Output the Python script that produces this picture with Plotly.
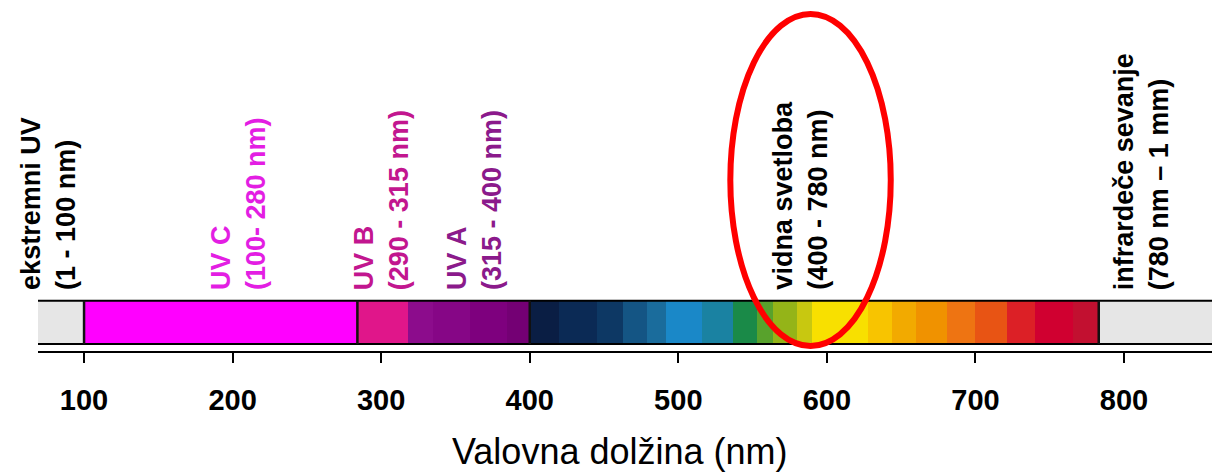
import plotly.graph_objects as go

# ---------------- data ----------------
SEG_EDGES_NM = [69, 100, 283, 318, 335, 360, 385, 400, 420, 445, 463, 479, 492, 516,
                537, 553, 564, 580, 590, 628, 644, 660, 681, 700, 721, 740, 766, 783, 862]
SEG_COLORS = ["#e6e6e6", "#ff00ff", "#e0168a", "#8c0c8c", "#860686", "#7e007e", "#740074",
              "#0a1e44", "#0b2a55", "#0d3864", "#145584", "#1a6c9c", "#1a88c8", "#1a82a2",
              "#1a8a48", "#58a22c", "#94b418", "#c8c810", "#f8e000", "#f8c400", "#f2aa00",
              "#f09200", "#ee7412", "#e85414", "#dc2026", "#d00030", "#c21030", "#e6e6e6"]
DIVIDERS_NM = [100, 284, 400, 783]

LABELS = ["ekstremni UV<br>(1 - 100 nm)",
          "UV C<br>(100- 280 nm)",
          "UV B<br>(290 - 315 nm)",
          "UV A<br>(315 - 400 nm)",
          "vidna svetloba<br>(400 - 780 nm)",
          "infrardeče sevanje<br>(780 nm – 1 mm)"]
LABEL_NM = [76, 204, 300, 362.5, 582, 812]
LABEL_COLORS = ["#000000", "#e31ee3", "#c2168f", "#8b1a8b", "#000000", "#000000"]

TICK_VALS = [100, 200, 300, 400, 500, 600, 700, 800]
TICK_TEXT = ["100", "200", "300", "400", "500", "600", "700", "800"]
X_TITLE = "Valovna dolžina (nm)"
HIGHLIGHT_NM = [535, 643]   # visible-light ellipse span

# ---------------- layout constants ----------------
OFF = 8                      # page body margin of the html
W, H = 1220 - OFF, 474 - OFF
ML, MR, MT = 38 - OFF, 3, 0
PLOT_H = 351 - OFF
MB = H - MT - PLOT_H
X_RANGE = [69.0, 862.6]
Y_RANGE = [0, PLOT_H]
BAND_BOT, BAND_TOP = 7, 50.3
FONT = "Liberation Sans"


def page_y(py):
    """page pixel row -> y data value"""
    return PLOT_H - (py - OFF)


fig = go.Figure()

for i, c in enumerate(SEG_COLORS):
    start = SEG_EDGES_NM[i]
    end = SEG_EDGES_NM[i + 1]
    fig.add_trace(go.Bar(
        orientation="h",
        y=[(BAND_BOT + BAND_TOP) / 2], x=[end - start], base=[start],
        width=BAND_TOP - BAND_BOT,
        marker=dict(color=c, line=dict(width=0)),
        hoverinfo="skip", showlegend=False))

shapes = []
for y in (BAND_BOT, BAND_TOP):
    shapes.append(dict(type="line", xref="x", yref="y", x0=X_RANGE[0], x1=X_RANGE[1],
                       y0=y, y1=y, line=dict(color="#000000", width=2)))
for d in DIVIDERS_NM:
    shapes.append(dict(type="line", xref="x", yref="y", x0=d, x1=d,
                       y0=BAND_BOT, y1=BAND_TOP, line=dict(color="#111111", width=2.5)))
shapes.append(dict(type="circle", xref="x", yref="y",
                   x0=HIGHLIGHT_NM[0], x1=HIGHLIGHT_NM[1], y0=page_y(346), y1=page_y(14),
                   line=dict(color="#ff0000", width=6)))

annotations = []
for txt, xnm, col in zip(LABELS, LABEL_NM, LABEL_COLORS):
    annotations.append(dict(
        text="<b>" + txt + "</b>", x=xnm, y=page_y(292), xref="x", yref="y",
        xanchor="center", yanchor="bottom", textangle=-90, align="left",
        showarrow=False, font=dict(family=FONT, size=27, color=col)))

annotations.append(dict(
    text=X_TITLE, xref="paper", yref="paper",
    x=(620 - 38) / (1217 - 38), y=page_y(451) / PLOT_H,
    xanchor="center", yanchor="middle", showarrow=False,
    font=dict(family=FONT, size=36, color="#000000")))

fig.update_layout(
    width=W, height=H,
    margin=dict(l=ML, r=MR, t=MT, b=MB),
    paper_bgcolor="white", plot_bgcolor="white",
    barmode="overlay", bargap=0,
    shapes=shapes, annotations=annotations,
    showlegend=False,
    xaxis=dict(range=X_RANGE, showline=True, linecolor="#000000", linewidth=2,
               ticks="outside", ticklen=10, tickwidth=2, tickcolor="#000000",
               tickvals=TICK_VALS, ticktext=TICK_TEXT, showgrid=False, zeroline=False,
               tickfont=dict(family=FONT, size=29, color="#000000", weight="bold"),
               ticklabelstandoff=12, automargin=False, fixedrange=True),
    yaxis=dict(range=Y_RANGE, visible=False, fixedrange=True),
)

fig.write_html("out.html")
